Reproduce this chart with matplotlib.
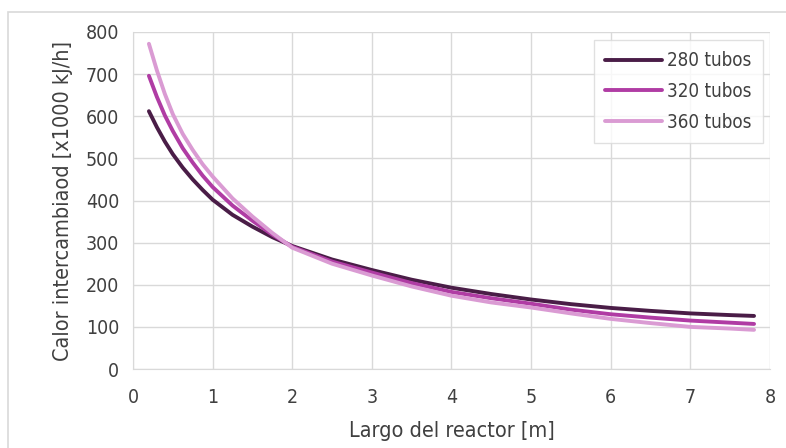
import matplotlib
matplotlib.use('Agg')
import matplotlib.pyplot as plt
from matplotlib.patches import Rectangle

plt.rcParams['font.family'] = ['DejaVu Sans']
plt.rcParams['font.stretch'] = 'condensed'

# Largo del reactor [m]
largo = [0.2, 0.3, 0.4, 0.5, 0.625, 0.75, 0.875, 1.0, 1.25, 1.5, 1.75, 2.0,
         2.5, 3.0, 3.5, 4.0, 4.5, 5.0, 5.5, 6.0, 6.5, 7.0, 7.5, 7.8]

# Calor intercambiado [x1000 kJ/h]
calor_280 = [612, 574, 540, 510, 478, 450, 425, 402, 366, 338, 313, 292,
             260, 235, 212, 193, 178, 165, 154, 145, 138, 132, 128, 126]
calor_320 = [696, 646, 602, 565, 524, 490, 459, 432, 388, 352, 319, 290,
             255, 229, 204, 183, 168, 155, 141, 130, 122, 115, 110, 107]
calor_360 = [772, 709, 653, 605, 558, 520, 486, 457, 405, 362, 323, 288,
             250, 222, 196, 174, 158, 146, 132, 119, 109, 100, 96, 93]

series = [
    ('280 tubos', calor_280, '#4A1D47'),
    ('320 tubos', calor_320, '#B03CA4'),
    ('360 tubos', calor_360, '#DA9BD3'),
]

text_color = '#404040'

fig = plt.figure(figsize=(7.86, 4.48), dpi=100)
ax = fig.add_axes([0.1692, 0.1763, 0.8104, 0.7523])

# outer frame
fig.patches.append(Rectangle((8 / 786, -0.05), 1.1, 1 - 12 / 448 + 0.05,
                             transform=fig.transFigure, fill=False,
                             edgecolor='#D9D9D9', linewidth=1.2))

for label, vals, color in series:
    ax.plot(largo, vals, color=color, linewidth=2.8, label=label,
            solid_capstyle='round', solid_joinstyle='round')

ax.set_xlim(0, 8)
ax.set_ylim(0, 800)
ax.set_xticks(range(0, 9))
ax.set_yticks(range(0, 801, 100))
ax.grid(True, color='#D9D9D9', linewidth=1)
ax.set_axisbelow(True)
for side in ['top', 'right']:
    ax.spines[side].set_visible(False)
for side in ['left', 'bottom']:
    ax.spines[side].set_color('#D9D9D9')
ax.tick_params(length=0, labelsize=14, colors=text_color)
ax.tick_params(axis='x', pad=14)
ax.tick_params(axis='y', pad=10)

ax.set_xlabel('Largo del reactor [m]', fontsize=15.5, color=text_color, labelpad=10)
ax.set_ylabel('Calor intercambiaod [x1000 kJ/h]', fontsize=15.5, color=text_color,
              labelpad=9)

leg = ax.legend(loc='upper right', fontsize=13.5, frameon=True, fancybox=False,
                handlelength=3.0, handletextpad=0.3, borderpad=0.6,
                labelspacing=0.62, borderaxespad=0,
                bbox_to_anchor=(0.989, 0.976))
leg.get_frame().set_edgecolor('#D9D9D9')
leg.get_frame().set_linewidth(1)
for t in leg.get_texts():
    t.set_color(text_color)

fig.savefig('out.png', dpi=100, facecolor='white')
